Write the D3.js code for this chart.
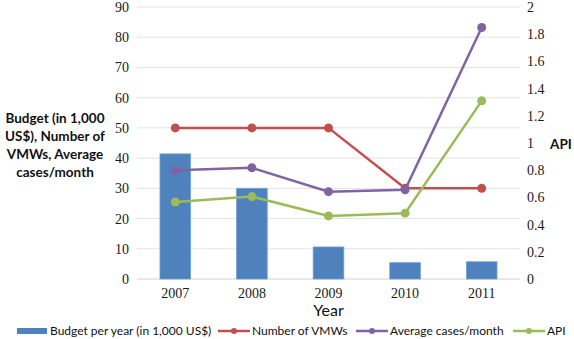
<!DOCTYPE html>
<html>
<head>
<meta charset="utf-8">
<script src="https://cdn.jsdelivr.net/npm/d3@7"></script>
<style>
  body { margin: 0; background: #fff; }
  svg { display: block; }
  .tick text { font-family: "Liberation Serif", serif; font-size: 14px; fill: #1a1a1a; }
  .lab { font-family: Lato, "Open Sans", sans-serif; font-weight: bold; fill: #111; }
  .leg { font-family: Lato, "Open Sans", sans-serif; font-size: 12px; fill: #111; }
</style>
</head>
<body>
<div id="chart"></div>
<script>
const years = ["2007", "2008", "2009", "2010", "2011"];
const budget = [41.4, 30, 10.6, 5.4, 5.7];
const vmws = [50, 50, 50, 30, 30];
const avgCases = [36, 36.8, 28.9, 29.5, 83.2];
const api = [0.566, 0.606, 0.464, 0.484, 1.31];
const leftTicks = [0, 10, 20, 30, 40, 50, 60, 70, 80, 90];
const rightTicks = [0, 0.2, 0.4, 0.6, 0.8, 1, 1.2, 1.4, 1.6, 1.8, 2];

const W = 574, H = 339;
const margin = { top: 7, right: 54, bottom: 60, left: 137 };
const w = W - margin.left - margin.right, h = H - margin.top - margin.bottom;

const svg = d3.select("#chart").append("svg").attr("width", W).attr("height", H);
const g = svg.append("g").attr("transform", `translate(${margin.left},${margin.top})`);

const x = d3.scaleBand().domain(years).range([0, w]).paddingInner(0.6).paddingOuter(0.3);
const xc = d => x(d) + x.bandwidth() / 2;
const yL = d3.scaleLinear().domain([0, 90]).range([h, 0]);
const yR = d3.scaleLinear().domain([0, 2]).range([h, 0]);

// grid
g.selectAll("line.grid").data(leftTicks).join("line").attr("class", "grid")
  .attr("x1", 0).attr("x2", w).attr("y1", d => yL(d)).attr("y2", d => yL(d))
  .attr("stroke", d => d === 0 ? "#d0d0d0" : "#e3e3e3").attr("stroke-width", 1);

// axes
g.append("g").call(d3.axisLeft(yL).tickValues(leftTicks).tickSize(0).tickPadding(8))
  .call(s => s.select(".domain").remove());
g.append("g").attr("transform", `translate(${w},0)`)
  .call(d3.axisRight(yR).tickValues(rightTicks).tickSize(0).tickPadding(7).tickFormat(d3.format("~g")))
  .call(s => s.select(".domain").remove());
g.append("g").attr("transform", `translate(0,${h})`)
  .call(d3.axisBottom(x).tickSize(0).tickPadding(9))
  .call(s => s.select(".domain").remove());

// bars
g.selectAll("rect.bar").data(years).join("rect").attr("class", "bar")
  .attr("x", d => x(d)).attr("width", x.bandwidth())
  .attr("y", (d, i) => yL(budget[i])).attr("height", (d, i) => h - yL(budget[i]))
  .attr("fill", "#4F81BD").attr("stroke", "#6fa0d8").attr("stroke-width", 0.8);

// lines
const series = [
  { vals: vmws, y: yL, color: "#C0504D" },
  { vals: avgCases, y: yL, color: "#8064A2" },
  { vals: api, y: yR, color: "#9BBB59" }
];
series.forEach(s => {
  const line = d3.line().x((d, i) => xc(years[i])).y(d => s.y(d));
  g.append("path").datum(s.vals).attr("d", line)
    .attr("fill", "none").attr("stroke", s.color).attr("stroke-width", 2.5);
  g.selectAll(null).data(s.vals).join("circle")
    .attr("cx", (d, i) => xc(years[i])).attr("cy", d => s.y(d)).attr("r", 4.5)
    .attr("fill", s.color);
});

// axis titles
const lt = svg.append("text").attr("class", "lab").attr("text-anchor", "middle")
  .attr("font-size", 13.5);
["Budget (in 1,000", "US$), Number of", "VMWs, Average", "cases/month"].forEach((t, i) => {
  lt.append("tspan").attr("x", 55).attr("y", 123 + i * 18).text(t);
});
svg.append("text").attr("class", "lab").attr("font-size", 13.5)
  .attr("x", 550).attr("y", 149).text("API");
svg.append("text").attr("class", "lab").attr("font-size", 16).style("font-weight", "normal")
  .attr("text-anchor", "middle").attr("x", xc("2009") + margin.left).attr("y", 316).text("Year");

// legend
const legend = [
  { name: "Budget per year (in 1,000 US$)", color: "#4F81BD", bar: true, x: 17 },
  { name: "Number of VMWs", color: "#C0504D", x: 218 },
  { name: "Average cases/month", color: "#8064A2", x: 356 },
  { name: "API", color: "#9BBB59", x: 513 }
];
const lg = svg.append("g").attr("transform", "translate(0,331)");
legend.forEach(l => {
  if (l.bar) {
    lg.append("rect").attr("x", l.x).attr("y", -3).attr("width", 30).attr("height", 6).attr("fill", l.color);
  } else {
    lg.append("line").attr("x1", l.x).attr("x2", l.x + 32).attr("y1", 0).attr("y2", 0)
      .attr("stroke", l.color).attr("stroke-width", 2.5);
    lg.append("circle").attr("cx", l.x + 16).attr("cy", 0).attr("r", 3).attr("fill", l.color);
  }
  lg.append("text").attr("class", "leg").attr("x", l.x + (l.bar ? 33 : 34)).attr("dy", "0.35em").text(l.name);
});
</script>
</body>
</html>
